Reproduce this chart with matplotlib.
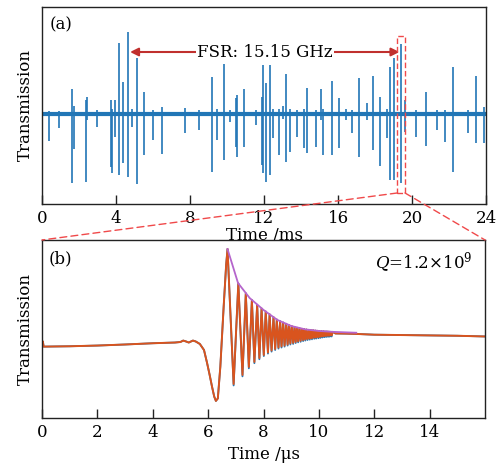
import matplotlib
matplotlib.use("Agg")
import matplotlib.pyplot as plt
from matplotlib.patches import Rectangle, ConnectionPatch

# ---------------- data: panel (a) ----------------
spike_t = [0.38, 0.94, 1.60, 1.73, 2.38, 2.45, 2.95, 3.75, 3.80, 3.95, 4.14, 4.40, 4.65, 4.85,
           5.12, 5.53, 6.02, 6.47, 7.75, 8.47, 9.21, 9.44, 9.86, 10.16, 10.49, 10.56, 10.92,
           11.59, 11.87, 11.96, 12.09, 12.34, 12.50, 12.83, 13.01, 13.17, 13.41, 13.78, 14.14,
           14.31, 14.81, 15.06, 15.17, 15.69, 16.05, 16.41, 16.74, 17.12, 17.55, 17.89, 18.25,
           18.63, 18.79, 19.05, 19.38, 19.62, 20.22, 20.76, 21.33, 21.78, 22.22, 23.05, 23.48, 23.87]
spike_up = [3, 3, 25, 8, 14, 17, 4, 14, 5, 14, 71, 32, 82, 5,
            56, 22, 4, 7, 6, 4, 37, 5, 50, 4, 16, 19, 25,
            4, 17, 49, 31, 49, 5, 5, 8, 40, 5, 4, 5,
            26, 4, 25, 5, 33, 16, 5, 4, 36, 11, 38, 17,
            5, 47, 56, 70, 14, 4, 22, 4, 4, 47, 4, 38, 7]
spike_dn = [-27, -14, -69, -35, -68, -6, -13, -53, -59, -23, -61, -49, -63, -13,
            -70, -41, -26, -40, -19, -16, -58, -26, -46, -8, -33, -43, -33,
            -11, -51, -59, -68, -61, -24, -41, -5, -48, -38, -23, -34,
            -39, -33, -6, -41, -41, -34, -6, -19, -43, -6, -36, -52,
            -24, -66, -66, -69, -18, -23, -32, -16, -28, -58, -19, -29, -29]
xticks_a = [0, 4, 8, 12, 16, 20, 24]
fsr_text = "FSR: 15.15 GHz"
fsr_start, fsr_end, fsr_y = 4.76, 19.32, 62
zoom_box = (19.2, 19.62, -79, 78)

# ---------------- data: panel (b) ----------------
pre_t = [0.0, 0.03, 0.06, 0.5, 1.0, 2.0, 3.0, 4.0, 4.8, 5.0, 5.1, 5.2, 5.3, 5.45, 5.55, 5.7,
         5.85, 5.96, 6.05, 6.14, 6.22, 6.28, 6.35, 6.44, 6.56, 6.65]
pre_v = [41.5, 43.0, 40.1, 40.2, 40.3, 40.7, 41.3, 42.0, 42.4, 42.7, 43.5, 43.0, 42.4, 43.5, 43.0, 41.6,
         38.2, 31.0, 24.5, 17.6, 12.0, 9.6, 11.0, 28.8, 62.5, 86.0]
peak_t = [6.70, 7.09, 7.36, 7.58, 7.77, 7.93, 8.08, 8.22, 8.36, 8.48, 8.60, 8.71, 8.82, 8.92,
          9.02, 9.12, 9.21, 9.30, 9.39, 9.47, 9.55, 9.64, 9.71, 9.79, 9.87, 9.94, 10.01,
          10.09, 10.16, 10.22, 10.29, 10.36, 10.42, 10.49]
peak_v = [94.9, 75.6, 70.0, 66.2, 63.6, 61.5, 59.8, 58.2, 56.6, 55.3, 54.3, 53.6, 52.9, 52.2,
          51.6, 51.1, 50.7, 50.4, 50.1, 49.9, 49.7, 49.5, 49.4, 49.3, 49.1, 49.0, 48.9,
          48.8, 48.7, 48.6, 48.6, 48.5, 48.4, 48.4]
trough_t = [6.92, 7.24, 7.47, 7.67, 7.85, 8.01, 8.16, 8.29, 8.42, 8.54, 8.65, 8.76, 8.87, 8.97,
            9.07, 9.16, 9.25, 9.34, 9.43, 9.51, 9.59, 9.67, 9.75, 9.83, 9.90, 9.98, 10.05,
            10.12, 10.19, 10.26, 10.33, 10.39, 10.46]
trough_v = [19.1, 24.2, 28.7, 31.5, 33.7, 35.4, 36.8, 37.9, 38.8, 39.6, 40.2, 40.7, 41.3, 41.9,
            42.2, 42.7, 43.1, 43.4, 43.8, 44.1, 44.4, 44.6, 44.8, 45.1, 45.2, 45.4, 45.6,
            45.8, 46.0, 46.1, 46.2, 46.3, 46.4]
meas_trough_v = [18.3, 23.4, 27.9, 30.8, 33.0, 34.8, 36.2, 37.3, 38.2, 39.0, 39.6, 40.1, 40.7, 41.3,
                 41.6, 42.1, 42.5, 42.8, 43.2, 43.5, 43.8, 44.0, 44.2, 44.5, 44.6, 44.8, 45.0,
                 45.2, 45.4, 45.5, 45.6, 45.7, 45.8]
post_t = [10.6, 11.0, 11.4, 12.0, 13.0, 14.0, 15.0, 16.0]
post_v = [47.5, 47.4, 47.2, 46.8, 46.6, 46.4, 46.2, 45.8]
env_t = [6.70, 7.08, 7.5, 8.0, 8.5, 9.0, 9.5, 10.0, 10.5, 11.0, 11.35]
env_v = [94.9, 75.8, 67.4, 60.7, 55.1, 51.7, 49.8, 48.9, 48.4, 48.1, 47.9]
xticks_b = [0, 2, 4, 6, 8, 10, 12, 14]

# ---------------- styles ----------------
BLUE = "#2176b6"
ORANGE = "#d9541e"
PURPLE = "#b565cc"
DARKRED = "#c0302e"
DASH = "#f0494a"
plt.rcParams["font.family"] = ["DejaVu Serif"]
plt.rcParams["mathtext.fontset"] = "dejavuserif"
FS = 12

fig = plt.figure(figsize=(5.02, 4.67), dpi=100)
ax1 = fig.add_axes([0.0837, 0.5632, 0.8845, 0.4218])
ax2 = fig.add_axes([0.0837, 0.1049, 0.8825, 0.3812])

for ax in (ax1, ax2):
    for s in ax.spines.values():
        s.set_linewidth(1.0)
        s.set_color("#222222")
    ax.tick_params(axis="x", direction="in", length=6.5, width=1.0, labelsize=FS, pad=4, color="#222222")
    ax.tick_params(axis="y", left=False, labelleft=False)
    ax.set_ylabel("Transmission", fontsize=FS, labelpad=6)

# panel (a)
ax1.plot([0, 24], [0, 0], color=BLUE, lw=3.0, solid_capstyle="butt")
ax1.vlines(spike_t, spike_dn, spike_up, color=BLUE, lw=1.2)
ax1.set_xlim(0, 24)
ax1.set_ylim(-90, 107)
ax1.set_xticks(xticks_a)
ax1.set_xlabel("Time /ms", fontsize=FS, labelpad=0)
ax1.text(0.018, 0.95, "(a)", transform=ax1.transAxes, fontsize=FS, va="top", ha="left")
ax1.annotate("", xy=(fsr_start, fsr_y), xytext=(fsr_end, fsr_y),
             arrowprops=dict(arrowstyle="<|-|>", color=DARKRED, lw=1.5, mutation_scale=12,
                             shrinkA=0, shrinkB=0))
ax1.text((fsr_start + fsr_end) / 2, fsr_y, fsr_text, fontsize=FS, ha="center", va="center",
         bbox=dict(facecolor="white", edgecolor="none", pad=1.0))
x0, x1b, y0, y1b = zoom_box
ax1.add_patch(Rectangle((x0, y0), x1b - x0, y1b - y0, fill=False, edgecolor=DASH,
                        lw=1.0, ls=(0, (4, 2)), zorder=5))

# panel (b)
fit_t, fit_v, meas_v = [], [], []
for i in range(len(peak_t)):
    fit_t.append(peak_t[i]); fit_v.append(peak_v[i]); meas_v.append(peak_v[i])
    if i < len(trough_t):
        fit_t.append(trough_t[i]); fit_v.append(trough_v[i]); meas_v.append(meas_trough_v[i])
all_t = pre_t + fit_t + post_t
ax2.plot(all_t, pre_v + meas_v + post_v, color=BLUE, lw=1.3)
ax2.plot(all_t, pre_v + fit_v + post_v, color=ORANGE, lw=1.4)
ax2.plot(env_t, env_v, color=PURPLE, lw=1.3)
ax2.set_xlim(0, 16)
ax2.set_ylim(0, 100)
ax2.set_xticks(xticks_b)
ax2.set_xlabel("Time /\u03bcs", fontsize=FS, labelpad=4)
ax2.text(0.015, 0.94, "(b)", transform=ax2.transAxes, fontsize=FS, va="top", ha="left")
ax2.text(0.972, 0.875, r"$Q$=1.2$\times$10$^9$", transform=ax2.transAxes, fontsize=FS,
         va="center", ha="right")

# zoom connection lines
for xa, xb in ((x0, 0), (x1b, 1)):
    cp = ConnectionPatch(xyA=(xa, y0), coordsA=ax1.transData, xyB=(xb, 1), coordsB=ax2.transAxes,
                         color=DASH, lw=1.0, ls=(0, (5, 3)))
    fig.add_artist(cp)

fig.savefig("out.png", dpi=100)
